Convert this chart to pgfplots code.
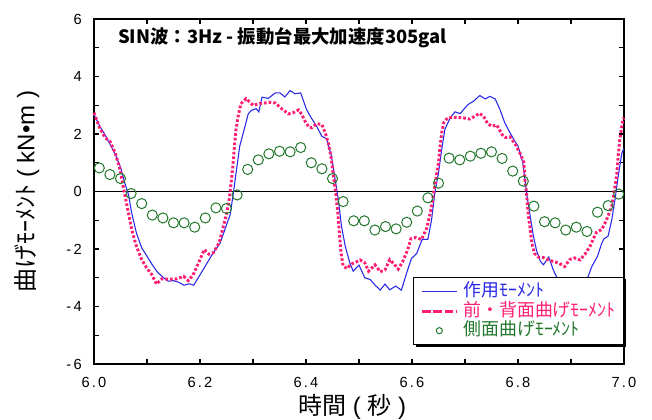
\documentclass[border=0pt]{standalone}
\usepackage{fontspec}
\setmainfont{Liberation Sans}
\newfontfamily\cjk{Noto Sans CJK JP}
\newfontfamily\tickfont[LetterSpace=15]{Liberation Sans}
\usepackage{pgfplots}
\pgfplotsset{compat=1.18}
\definecolor{mblue}{RGB}{40,40,230}
\definecolor{mpink}{RGB}{255,30,115}
\definecolor{mgreen}{RGB}{35,120,45}
\begin{document}
\begin{tikzpicture}
\useasboundingbox (-70.5pt,-41.25pt) rectangle (418.5pt,273pt);
\begin{axis}[
  scale only axis, width=397.5pt, height=258.75pt,
  xmin=6, xmax=7, ymin=-6, ymax=6, clip=false,
  xtick={6,6.2,6.4,6.6,6.8,7}, xticklabels={6.0,6.2,6.4,6.6,6.8,7.0},
  minor xtick={6.1,6.3,6.5,6.7,6.9},
  ytick={-6,-4,-2,0,2,4,6}, yticklabels={-6,-4,-2,0,2,4,6},
  minor ytick={-5,-3,-1,1,3,5},
  tick align=inside, major tick length=3.75pt, minor tick length=3.75pt,
  tick style={black, line width=0.8pt},
  axis line style={line width=0.8pt},
  xticklabel style={font=\tickfont\fontsize{11}{12}\selectfont, anchor=center, inner sep=0pt, yshift=-13.5pt},
  yticklabel style={font=\tickfont\fontsize{11}{12}\selectfont, anchor=east, inner sep=0pt, xshift=-9pt},
  xlabel={{\cjk 時間} ( {\cjk 秒} )},
  ylabel={{\cjk 曲げﾓｰﾒﾝﾄ} ( kN•m )},
  xlabel style={font=\fontsize{18}{18}\selectfont, at={(axis description cs:0.487,-0.1246)}, anchor=center, inner sep=0pt},
  ylabel style={font=\fontsize{18}{18}\selectfont, at={(axis description cs:-0.1264,0.5)}, anchor=center, inner sep=0pt},
  legend style={at={(axis description cs:1,0.055)}, anchor=south east, draw=black, line width=0.8pt, fill=white,
    font=\cjk\fontsize{13.4}{13.4}\selectfont, inner xsep=5.4pt, inner ysep=3pt, row sep=0pt, column sep=3.5pt,
    nodes={inner sep=0.6pt, text height=10.5pt, text depth=3pt}},
  legend cell align=left,
]
\addplot[black, line width=0.8pt, forget plot] coordinates {(6,0) (7,0)};
\addplot[mblue, line width=0.8pt,
  legend image code/.code={\draw[mblue, line width=0.8pt] (0pt,0pt) -- (26pt,0pt);}]
coordinates {(6.000,2.68)(6.010,2.30)(6.020,2.00)(6.030,1.65)(6.040,1.30)(6.050,0.85)(6.058,0.30)(6.065,-0.10)(6.071,-0.74)(6.080,-1.44)(6.090,-1.96)(6.100,-2.25)(6.110,-2.55)(6.120,-2.81)(6.130,-2.98)(6.140,-3.12)(6.150,-3.10)(6.160,-3.16)(6.170,-3.26)(6.180,-3.21)(6.188,-3.26)(6.200,-2.90)(6.213,-2.50)(6.225,-2.13)(6.238,-1.79)(6.247,-1.32)(6.257,-0.80)(6.263,-0.05)(6.269,0.77)(6.275,1.58)(6.285,2.27)(6.291,2.70)(6.297,2.82)(6.306,2.88)(6.311,2.77)(6.317,3.28)(6.329,3.24)(6.342,3.43)(6.351,3.43)(6.360,3.29)(6.370,3.51)(6.379,3.40)(6.390,3.43)(6.401,2.85)(6.410,2.56)(6.420,2.27)(6.430,1.92)(6.439,1.83)(6.448,1.23)(6.456,0.30)(6.461,-0.28)(6.467,-1.21)(6.474,-1.90)(6.483,-2.50)(6.489,-2.77)(6.500,-2.56)(6.511,-3.00)(6.521,-3.06)(6.530,-3.25)(6.540,-3.43)(6.549,-3.22)(6.558,-3.42)(6.569,-3.29)(6.580,-3.43)(6.591,-2.77)(6.599,-2.33)(6.609,-2.15)(6.619,-1.67)(6.630,-1.66)(6.637,-0.97)(6.643,-0.05)(6.650,0.65)(6.656,1.46)(6.662,2.16)(6.672,2.56)(6.681,2.77)(6.691,2.71)(6.700,2.91)(6.706,3.03)(6.716,3.14)(6.728,3.34)(6.738,3.22)(6.747,3.31)(6.757,3.22)(6.766,2.85)(6.775,2.39)(6.785,2.04)(6.794,1.75)(6.800,1.58)(6.809,1.00)(6.813,0.42)(6.817,-0.16)(6.823,-0.86)(6.829,-1.55)(6.835,-2.05)(6.842,-2.42)(6.848,-2.55)(6.858,-2.28)(6.867,-2.75)(6.875,-3.05)(6.885,-3.15)(6.900,-3.20)(6.915,-3.15)(6.925,-3.05)(6.932,-2.97)(6.939,-2.62)(6.950,-2.25)(6.958,-1.80)(6.962,-1.65)(6.970,-1.55)(6.977,-0.97)(6.983,-0.28)(6.989,0.53)(6.996,1.34)(7.000,1.50)};
\addlegendentry{\textcolor{mblue}{作用ﾓｰﾒﾝﾄ}}
\addplot[mpink, line width=2.2pt, dash pattern=on 2pt off 1.5pt,
  legend image code/.code={\draw[mpink, line width=2.2pt, dash pattern=on 6.5pt off 2pt] (0pt,0pt) -- (26pt,0pt);}]
coordinates {(6.000,2.74)(6.011,2.20)(6.021,1.87)(6.030,1.75)(6.040,1.34)(6.049,0.77)(6.055,0.18)(6.060,-0.28)(6.065,-0.74)(6.071,-1.32)(6.080,-1.90)(6.090,-2.37)(6.099,-2.65)(6.109,-2.89)(6.118,-3.22)(6.128,-3.04)(6.140,-3.05)(6.156,-3.04)(6.169,-2.95)(6.178,-3.10)(6.187,-2.90)(6.200,-2.37)(6.208,-2.02)(6.217,-2.18)(6.225,-2.13)(6.236,-1.79)(6.244,-1.21)(6.250,-0.80)(6.255,-0.28)(6.258,0.18)(6.262,0.88)(6.265,1.58)(6.268,2.16)(6.272,2.62)(6.277,3.05)(6.287,3.23)(6.300,3.00)(6.313,3.06)(6.332,3.10)(6.342,3.08)(6.354,2.88)(6.367,2.70)(6.376,2.74)(6.386,2.84)(6.392,2.68)(6.398,2.45)(6.406,2.23)(6.411,2.22)(6.420,2.36)(6.430,2.33)(6.436,2.06)(6.442,1.69)(6.447,1.23)(6.452,0.53)(6.456,-0.05)(6.460,-0.74)(6.463,-1.44)(6.466,-2.13)(6.470,-2.58)(6.477,-2.68)(6.486,-2.52)(6.496,-2.44)(6.502,-2.38)(6.511,-2.48)(6.518,-2.77)(6.530,-2.55)(6.540,-2.79)(6.549,-2.73)(6.558,-2.37)(6.567,-2.54)(6.574,-2.70)(6.582,-2.45)(6.592,-2.02)(6.598,-1.64)(6.607,-1.60)(6.618,-1.67)(6.628,-1.26)(6.635,-0.70)(6.640,-0.16)(6.645,0.42)(6.650,1.00)(6.653,1.58)(6.656,2.04)(6.660,2.40)(6.667,2.56)(6.684,2.58)(6.697,2.56)(6.709,2.52)(6.719,2.62)(6.727,2.72)(6.735,2.62)(6.742,2.38)(6.750,2.27)(6.760,2.31)(6.770,1.98)(6.776,1.88)(6.785,1.90)(6.795,1.64)(6.805,1.28)(6.811,1.02)(6.813,0.42)(6.816,-0.05)(6.819,-0.74)(6.823,-1.32)(6.826,-1.79)(6.831,-2.15)(6.838,-2.28)(6.848,-2.30)(6.858,-2.38)(6.867,-2.44)(6.876,-2.48)(6.888,-2.61)(6.898,-2.36)(6.907,-2.31)(6.917,-2.38)(6.926,-2.19)(6.936,-1.90)(6.942,-1.65)(6.948,-1.42)(6.958,-1.32)(6.966,-1.03)(6.972,-0.75)(6.977,-0.51)(6.981,-0.05)(6.986,0.53)(6.989,1.23)(6.992,1.81)(6.998,2.50)(7.000,2.56)};
\addlegendentry{\textcolor{mpink}{前・背面曲げﾓｰﾒﾝﾄ}}
\addplot[only marks, mark=o, mark size=3.8pt, mgreen, line width=0.75pt,
  legend image code/.code={\draw[mgreen, line width=0.75pt] (13pt,0pt) circle (2.3pt);}]
coordinates {(6.01,0.82)(6.03,0.59)(6.05,0.45)(6.07,-0.07)(6.09,-0.42)(6.11,-0.82)(6.13,-0.92)(6.15,-1.09)(6.17,-1.09)(6.19,-1.24)(6.21,-0.92)(6.23,-0.57)(6.25,-0.59)(6.27,-0.12)(6.29,0.77)(6.31,1.10)(6.33,1.31)(6.35,1.40)(6.37,1.38)(6.39,1.53)(6.41,1.00)(6.43,0.79)(6.45,0.45)(6.47,-0.35)(6.49,-1.02)(6.51,-1.02)(6.53,-1.34)(6.55,-1.22)(6.57,-1.30)(6.59,-1.07)(6.61,-0.68)(6.63,-0.22)(6.65,0.29)(6.67,1.16)(6.69,1.10)(6.71,1.23)(6.73,1.33)(6.75,1.38)(6.77,1.15)(6.79,0.71)(6.81,0.36)(6.83,-0.51)(6.85,-1.05)(6.87,-1.09)(6.89,-1.34)(6.91,-1.24)(6.93,-1.39)(6.95,-0.72)(6.97,-0.49)(6.99,-0.09)};
\addlegendentry{\textcolor{mgreen}{側面曲げﾓｰﾒﾝﾄ}}
\fill[black] (axis description cs:0.6075,0.0493) rectangle (axis description cs:1.0038,0.2464);
\node[anchor=west, inner sep=0pt, font=\cjk\bfseries\fontsize{13.8}{14}\selectfont] at (axis description cs:0.045,0.946) {SIN波：3Hz - 振動台最大加速度305gal};
\end{axis}
\end{tikzpicture}
\end{document}
